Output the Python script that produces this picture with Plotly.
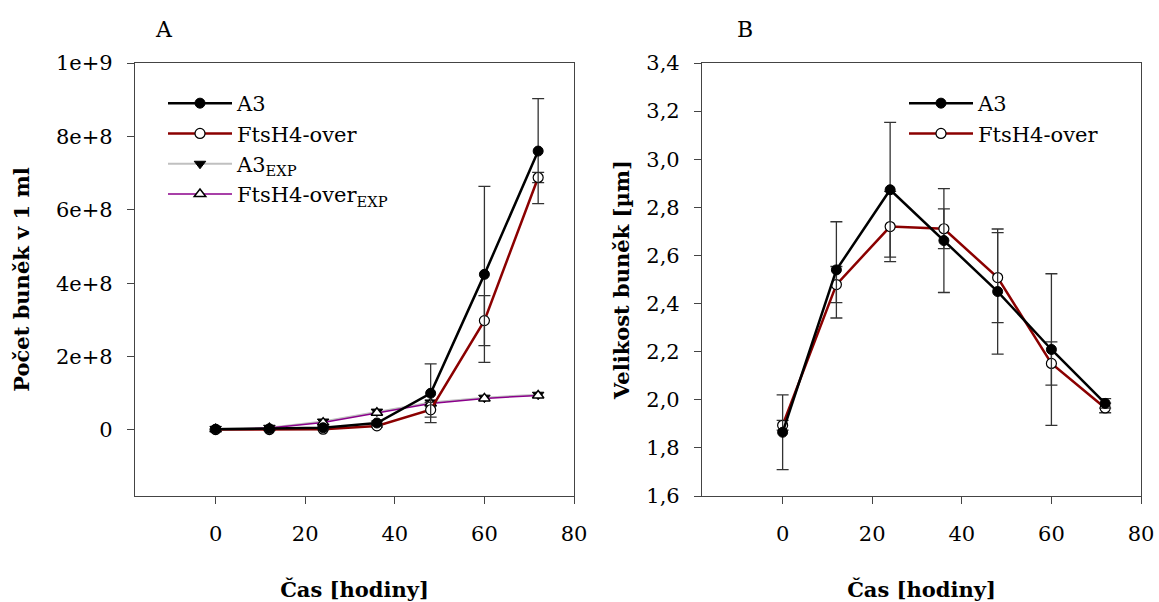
import plotly.graph_objects as go

# ---- data ----
hours = [0, 12, 24, 36, 48, 60, 72]

# Panel A: cell count per ml
a3_count = [2e6, 3e6, 6e6, 1.9e7, 1.0e8, 4.24e8, 7.6e8]
a3_count_err = [1e6, 1e6, 2e6, 5e6, 8.0e7, 2.4e8, 1.43e8]
ftsh4_count = [1e6, 1e6, 2e6, 1.1e7, 5.5e7, 2.98e8, 6.88e8]
ftsh4_count_err = [1e6, 1e6, 1e6, 3e6, 2.0e7, 6.8e7, 1.4e7]
a3_exp = [3e6, 6e6, 2.3e7, 5.0e7, 7.5e7, 8.8e7, 9.6e7]
ftsh4_exp = [2e6, 5e6, 2.0e7, 4.7e7, 7.2e7, 8.6e7, 9.4e7]

# Panel B: cell size [um]
a3_size = [1.865, 2.54, 2.873, 2.662, 2.45, 2.209, 1.985]
a3_size_err = [0.155, 0.2, 0.28, 0.216, 0.26, 0.315, 0.02]
ftsh4_size = [1.894, 2.479, 2.72, 2.711, 2.508, 2.151, 1.966]
ftsh4_size_err = [0.02, 0.075, 0.146, 0.083, 0.187, 0.09, 0.02]

x_ticks = [0, 20, 40, 60, 80]
a_yticks = [0, 2e8, 4e8, 6e8, 8e8, 1e9]
a_yticklabels = ["0", "2e+8", "4e+8", "6e+8", "8e+8", "1e+9"]
b_yticks = [1.6, 1.8, 2.0, 2.2, 2.4, 2.6, 2.8, 3.0, 3.2, 3.4]
b_yticklabels = ["1,6", "1,8", "2,0", "2,2", "2,4", "2,6", "2,8", "3,0", "3,2", "3,4"]

names_a = ["A3", "FtsH4-over", "A3<sub>EXP</sub>", "FtsH4-over<sub>EXP</sub>"]
names_b = ["A3", "FtsH4-over"]

FONT = "DejaVu Serif"
RED = "#8b0000"
ERR = "#333333"

fig = go.Figure()

def err(vals):
    return dict(type="data", array=vals, visible=True, color=ERR, thickness=1.3, width=6)

# Panel A
fig.add_trace(go.Scatter(x=hours, y=a3_exp, name=names_a[2], mode="lines+markers",
                         line=dict(color="#c0c0c0", width=2),
                         marker=dict(symbol="triangle-down", size=10, color="black",
                                     line=dict(color="black", width=1)),
                         xaxis="x", yaxis="y", legend="legend", legendrank=3))
fig.add_trace(go.Scatter(x=hours, y=ftsh4_exp, name=names_a[3], mode="lines+markers",
                         line=dict(color="#8b008b", width=1.5),
                         marker=dict(symbol="triangle-up", size=10, color="white",
                                     line=dict(color="black", width=1.5)),
                         xaxis="x", yaxis="y", legend="legend", legendrank=4))
fig.add_trace(go.Scatter(x=hours, y=ftsh4_count, name=names_a[1], mode="lines+markers",
                         line=dict(color=RED, width=2.5),
                         marker=dict(symbol="circle", size=10, color="white",
                                     line=dict(color="black", width=1.2)),
                         error_y=err(ftsh4_count_err),
                         xaxis="x", yaxis="y", legend="legend", legendrank=2))
fig.add_trace(go.Scatter(x=hours, y=a3_count, name=names_a[0], mode="lines+markers",
                         line=dict(color="black", width=2.5),
                         marker=dict(symbol="circle", size=10, color="black",
                                     line=dict(color="black", width=1)),
                         error_y=err(a3_count_err),
                         xaxis="x", yaxis="y", legend="legend", legendrank=1))

# Panel B
fig.add_trace(go.Scatter(x=hours, y=ftsh4_size, name=names_b[1], mode="lines+markers",
                         line=dict(color=RED, width=2.5),
                         marker=dict(symbol="circle", size=10, color="white",
                                     line=dict(color="black", width=1.2)),
                         error_y=err(ftsh4_size_err),
                         xaxis="x2", yaxis="y2", legend="legend2", legendrank=2))
fig.add_trace(go.Scatter(x=hours, y=a3_size, name=names_b[0], mode="lines+markers",
                         line=dict(color="black", width=2.5),
                         marker=dict(symbol="circle", size=10, color="black",
                                     line=dict(color="black", width=1)),
                         error_y=err(a3_size_err),
                         xaxis="x2", yaxis="y2", legend="legend2", legendrank=1))

W, H = 1159, 602
axis_common = dict(showline=True, linecolor="#444444", linewidth=1.2, mirror=True,
                   ticks="outside", ticklen=7, tickwidth=1.2, tickcolor="#444444",
                   showgrid=False, zeroline=False, automargin=False,
                   tickfont=dict(family=FONT, size=21, color="black"))
title_font = dict(family=FONT, size=21, color="black")

ydom = [1 - 496 / H, 1 - 63 / H]

fig.update_layout(
    width=W, height=H,
    margin=dict(l=0, r=0, t=0, b=0, autoexpand=False),
    paper_bgcolor="white", plot_bgcolor="white",
    font=dict(family=FONT, color="black"),
    xaxis=dict(domain=[135 / W, 574 / W], range=[-18, 80], tickvals=x_ticks,
               ticklabelstandoff=12,
               title=dict(text="<b>Čas [hodiny]</b>", font=title_font, standoff=37),
               anchor="y", **axis_common),
    yaxis=dict(domain=ydom, range=[-1.8e8, 1e9], tickvals=a_yticks, ticktext=a_yticklabels,
               ticklabelstandoff=10,
               title=dict(text="<b>Počet buněk v 1 ml</b>", font=title_font, standoff=20),
               anchor="x", **axis_common),
    xaxis2=dict(domain=[702 / W, 1141 / W], range=[-18, 80], tickvals=x_ticks,
                ticklabelstandoff=12,
                title=dict(text="<b>Čas [hodiny]</b>", font=title_font, standoff=37),
                anchor="y2", **axis_common),
    yaxis2=dict(domain=ydom, range=[1.6, 3.4], tickvals=b_yticks, ticktext=b_yticklabels,
                ticklabelstandoff=10,
                title=dict(text="<b>Velikost buněk [µm]</b>", font=title_font, standoff=10),
                anchor="x2", **axis_common),
    legend=dict(x=163 / W, y=1 - 83 / H, xanchor="left", yanchor="top",
                font=dict(family=FONT, size=21, color="black"),
                bgcolor="rgba(0,0,0,0)", itemwidth=64, tracegroupgap=0),
    legend2=dict(x=904 / W, y=1 - 83 / H, xanchor="left", yanchor="top",
                 font=dict(family=FONT, size=21, color="black"),
                 bgcolor="rgba(0,0,0,0)", itemwidth=64),
    annotations=[
        dict(text="A", x=164 / W, y=1 - 30 / H, xref="paper", yref="paper",
             xanchor="center", yanchor="middle",
             showarrow=False, font=dict(family=FONT, size=22, color="black")),
        dict(text="B", x=745 / W, y=1 - 30 / H, xref="paper", yref="paper",
             xanchor="center", yanchor="middle",
             showarrow=False, font=dict(family=FONT, size=22, color="black")),
    ],
)

fig.write_html("out.html", config={"displayModeBar": False},
               post_script="document.body.style.margin='0';document.body.style.overflow='hidden';")
